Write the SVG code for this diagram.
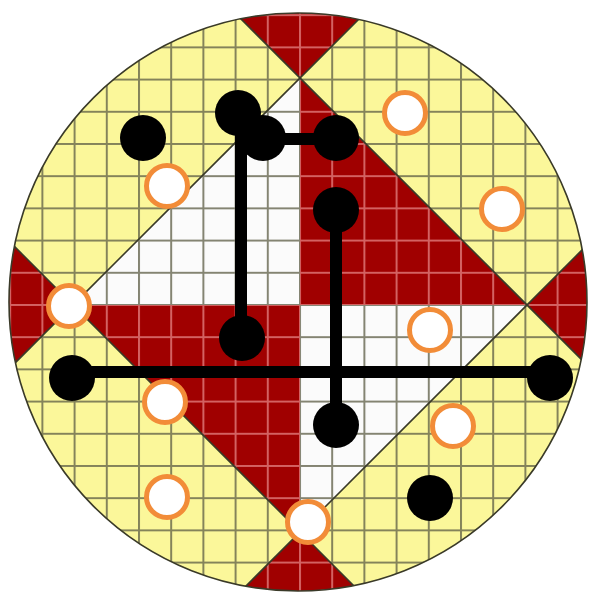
<svg xmlns="http://www.w3.org/2000/svg" width="593" height="597" viewBox="0 0 593 597">
<style>
.yel{fill:#fbf79a}
.wht{fill:#fbfbfb}
.red{fill:#a00000}
.diag{stroke:#3a3a28;stroke-width:1.6;fill:none}
.bar{stroke:#000;stroke-width:12;stroke-linecap:butt;fill:none}
.blk{fill:#000}
.ring{fill:#fff;stroke:#f28c38;stroke-width:5}
</style>
<defs>
<clipPath id="clip"><circle cx="298" cy="302" r="289"/></clipPath>
<pattern id="gd" patternUnits="userSpaceOnUse" x="299" y="304" width="32.2" height="32.2">
<path d="M1 0V32.2M0 1H32.2" stroke="#5c5c44" stroke-opacity="0.75" stroke-width="2"/>
</pattern>
<pattern id="gp" patternUnits="userSpaceOnUse" x="299" y="304" width="32.2" height="32.2">
<path d="M1 0V32.2M0 1H32.2" stroke="#e07a7a" stroke-opacity="0.8" stroke-width="2"/>
</pattern>
</defs>
<rect width="593" height="597" fill="#ffffff"/>
<g id="board" clip-path="url(#clip)">
<rect class="yel" x="0" y="0" width="593" height="597"/>
<polygon class="wht" points="300,78 73,305 300,305"/>
<polygon class="wht" points="300,305 527,305 300,532"/>
<rect x="0" y="0" width="593" height="597" fill="url(#gd)"/>
<g id="redparts">
<polygon class="red" points="300,78 0,-222 600,-222"/>
<polygon class="red" points="73,305 -227,5 -227,605"/>
<polygon class="red" points="527,305 827,5 827,605"/>
<polygon class="red" points="300,532 0,832 600,832"/>
<polygon class="red" points="300,78 527,305 300,305"/>
<polygon class="red" points="73,305 300,305 300,532"/>
</g>
<g fill="url(#gp)">
<polygon points="300,78 0,-222 600,-222"/>
<polygon points="73,305 -227,5 -227,605"/>
<polygon points="527,305 827,5 827,605"/>
<polygon points="300,532 0,832 600,832"/>
<polygon points="300,78 527,305 300,305"/>
<polygon points="73,305 300,305 300,532"/>
</g>
<g class="diag">
<line x1="-100" y1="478" x2="478" y2="-100"/>
<line x1="100" y1="-122" x2="700" y2="478"/>
<line x1="-100" y1="132" x2="500" y2="732"/>
<line x1="132" y1="700" x2="832" y2="0"/>
</g>
</g>
<circle cx="298" cy="302" r="289" fill="none" stroke="#3a3a28" stroke-width="1.6"/>
<g id="connectors" class="bar">
<line x1="241" y1="113" x2="241" y2="338"/>
<line x1="263" y1="139" x2="336" y2="139"/>
<line x1="336" y1="210" x2="336" y2="425"/>
<line x1="72" y1="372" x2="550" y2="372"/>
</g>
<g id="black-stones">
<circle id="b1" class="blk" cx="143" cy="138" r="23"/>
<circle id="b2" class="blk" cx="238" cy="113" r="23"/>
<circle id="b3" class="blk" cx="263" cy="138" r="23"/>
<circle id="b4" class="blk" cx="336" cy="138" r="23"/>
<circle id="b5" class="blk" cx="336" cy="210" r="23"/>
<circle id="b6" class="blk" cx="242" cy="338" r="23"/>
<circle id="b7" class="blk" cx="72" cy="378" r="23"/>
<circle id="b8" class="blk" cx="550" cy="378" r="23"/>
<circle id="b9" class="blk" cx="336" cy="425" r="23"/>
<circle id="b10" class="blk" cx="430" cy="498" r="23"/>
</g>
<g id="white-stones">
<circle id="w1" class="ring" cx="405" cy="113" r="20.5"/>
<circle id="w2" class="ring" cx="167" cy="186" r="20.5"/>
<circle id="w3" class="ring" cx="502" cy="209" r="20.5"/>
<circle id="w4" class="ring" cx="69" cy="306" r="20.5"/>
<circle id="w5" class="ring" cx="430" cy="330" r="20.5"/>
<circle id="w6" class="ring" cx="165" cy="402" r="20.5"/>
<circle id="w7" class="ring" cx="453" cy="426" r="20.5"/>
<circle id="w8" class="ring" cx="167" cy="497" r="20.5"/>
<circle id="w9" class="ring" cx="308" cy="522" r="20.5"/>
</g>
</svg>
